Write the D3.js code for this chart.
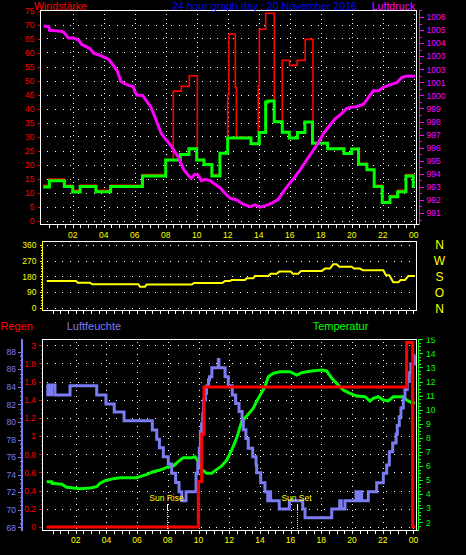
<!DOCTYPE html>
<html><head><meta charset="utf-8">
<script src="https://cdn.jsdelivr.net/npm/d3@7/dist/d3.min.js"></script>
<style>
html,body{margin:0;padding:0;background:#000;}
svg{display:block;}
text{font-family:"Liberation Sans",Arial,sans-serif;}
</style></head><body>
<svg id="chart" width="466" height="555"></svg>
<script>
// ---------- data ----------
const hourTicks  = [2,4,6,8,10,12,14,16,18,20,22,24];
const hourLabels = ["02","04","06","08","10","12","14","16","18","20","22","00"];

const windTicks = [0,5,10,15,20,25,30,35,40,45,50,55,60,65,70,75];
const pressureTicks  = [1006,1005,1004,1003,1002,1001,1000,999,998,997,996,995,994,993,992,991];
const pressureLabels = ["1006","1005","1004","1003","1003","1001","1000","999","998","997","996","995","994","993","992","991"];
const dirTicks   = [0,90,180,270,360];
const dirLetters = ["N","O","S","W","N"];
const humTicks   = [68,70,72,74,76,78,80,82,84,86,88];
const rainTicks  = [0,0.2,0.4,0.6,0.8,1,1.2,1.4,1.6,1.8,2];
const rainLabels = ["0","0.2","0.4","0.6","0.8","1","1.2","1.4","1.6","1.8","3"];
const tempTicks  = [2,3,4,5,6,7,8,9,10,11,12,13,14,15];

// wind average (step)
const windHours = [0.1,0.5,1.46,2.0,2.48,3.5,4.45,6.5,8.0,8.94,9.5,10.0,10.47,10.98,11.5,12.0,13.5,14.04,14.45,14.6,15.0,15.52,15.97,16.5,16.98,17.47,18.45,19.5,20.0,20.44,20.98,21.45,21.97,22.47,22.97,23.5,23.97,24.05];
const windAvg   = [12.0,14.2,12.1,10.2,12.1,10.3,12.1,15.9,21.6,23.6,25.6,21.6,20.0,15.9,24.0,29.5,27.4,31.4,42.3,42.7,35.3,31.5,29.5,31.4,35.2,27.6,25.6,23.9,25.5,20.1,18.1,12.1,6.4,8.5,10.3,15.9,12.1,12.1];
// wind gust (step)
const gustHours = [0.1,0.5,1.46,2.0,2.48,3.5,4.45,6.5,8.0,8.49,9.0,9.52,10.04,10.47,10.98,11.5,12.0,12.08,12.49,12.56,13.5,13.97,14.04,14.45,15.0,15.52,15.99,16.48,17.0,17.5,18.45,19.5,20.0,20.5,20.98,21.45,21.97,22.47,22.97,23.5,23.97,24.05];
const gustValues= [12.6,14.8,12.6,10.8,12.6,10.8,12.6,16.4,21.8,46.2,47.9,51.7,21.8,20.2,16.4,24.2,45.0,66.6,47.6,29.7,27.6,48.0,68.3,74.0,35.5,57.2,55.4,57.2,64.7,27.8,25.8,24.1,25.7,20.3,18.3,12.6,6.8,8.9,10.8,16.4,12.3,12.3];
// pressure
const presHours = [0.13,0.45,0.51,1.29,1.46,1.72,2.04,2.38,2.6,2.86,3.12,3.37,3.72,4.06,4.32,4.62,4.88,5.1,5.31,5.61,5.91,6.0,6.13,6.51,6.77,7.03,7.25,7.42,7.71,8.0,8.32,8.54,8.8,8.97,9.18,9.44,9.65,9.87,10.08,10.3,10.55,10.86,11.18,11.5,11.83,12.15,12.58,13.0,13.44,13.76,14.08,14.41,14.84,15.27,15.59,15.92,16.35,16.67,17.1,17.53,17.85,18.18,18.61,18.93,19.36,19.68,20.0,20.33,20.76,20.97,21.18,21.4,21.72,22.05,22.47,22.9,23.23,23.55,24.08];
const presValues= [1005.31,1005.26,1004.98,1004.9,1004.8,1004.39,1004.39,1004.24,1003.88,1003.73,1003.57,1003.22,1003.09,1002.92,1002.76,1002.3,1001.85,1001.08,1000.93,1000.77,1000.67,1000.31,1000.03,1000.0,999.57,999.14,998.5,998.0,997.1,996.64,996.18,995.77,995.31,994.81,994.29,993.91,993.66,993.96,993.91,993.48,993.58,993.48,993.2,992.94,992.51,992.13,992.0,991.67,991.49,991.62,991.44,991.54,991.75,992.05,992.63,993.15,993.78,994.29,995.06,995.82,996.38,997.1,997.74,998.2,998.63,999.01,999.09,999.14,999.32,999.65,1000.03,1000.36,1000.36,1000.62,1000.8,1000.97,1001.36,1001.49,1001.46];
// wind direction
const dirHours  = [0.11,2.02,2.13,2.93,3.08,6.08,6.19,6.51,6.63,9.56,9.71,11.55,11.73,12.05,12.16,13.03,13.14,13.57,13.68,14.55,14.7,15.09,15.26,16.01,16.14,16.5,16.68,18.03,18.24,18.57,18.78,19.0,19.17,19.98,20.13,20.52,20.7,22.04,22.21,22.43,22.69,23.02,23.17,23.45,23.67,24.1];
const dirValues = [154,154,144,144,135,135,121,121,133,133,142,142,154,154,159,159,169,169,182,182,195,195,207,207,195,195,211,211,224,224,249,249,235,235,224,224,215,215,186,186,146,146,159,159,182,182];
// humidity (step)
const humHours  = [0.11,0.18,0.26,0.3,0.44,0.65,1.63,3.37,3.97,4.51,5.15,6.99,7.28,7.45,7.71,8.03,8.25,8.51,8.73,8.91,9.19,9.84,9.95,10.05,10.12,10.2,10.28,10.33,10.45,10.52,10.65,10.72,10.87,11.29,11.33,11.73,11.94,12.2,12.42,12.64,12.84,12.92,13.09,13.24,13.53,13.75,13.79,14.05,14.33,14.51,14.6,14.7,15.26,15.92,16.79,16.94,18.68,19.2,19.3,19.54,20.26,20.35,20.45,20.63,21.06,21.61,22.04,22.26,22.43,22.65,22.87,22.95,23.08,23.19,23.34,23.45,23.6,23.73,23.84,24.06,24.12];
const humValues = [84.2,83.1,84.2,83.1,84.2,83.07,84.13,83.07,82.04,81.13,80.14,79.08,78.02,77.07,76.04,75.2,74.15,73.1,72.05,71.03,72.05,74.15,75.3,77.0,78.9,79.8,81.0,82.5,83.26,84.1,84.8,85.15,86.18,87.1,86.18,85.15,84.13,83.07,82.1,81.2,80.1,79.1,78.1,77.0,76.04,75.1,74.2,73.08,72.05,71.03,72.05,71.03,70.08,71.03,70.08,69.1,70.08,71.03,70.08,71.03,72.05,71.03,72.05,71.03,72.05,73.08,74.15,75.1,76.6,77.6,78.6,79.6,80.6,81.6,82.7,83.7,84.6,85.6,86.6,87.6,87.6];
// temperature
const tempHours = [0.11,0.44,0.46,1.09,1.41,2.28,2.93,3.37,3.58,3.91,4.45,4.89,5.97,6.19,6.63,7.06,7.49,7.93,8.36,8.79,9.01,9.56,9.77,9.99,10.21,10.53,10.86,11.19,11.51,11.84,12.16,12.49,12.81,13.24,13.57,13.79,14.12,14.33,14.55,14.87,15.31,15.96,16.4,16.72,17.37,18.03,18.35,18.68,19.0,19.43,19.87,20.31,20.85,21.17,21.39,21.71,22.04,22.36,22.69,23.34,23.56,23.89,24.1];
const tempValues= [4.88,4.88,4.77,4.70,4.49,4.39,4.44,4.53,4.77,4.95,5.1,5.17,5.17,5.24,5.41,5.59,5.71,5.9,6.0,6.42,6.59,6.59,6.66,6.3,5.76,5.48,5.48,5.76,6.0,6.42,7.13,8.0,9.14,9.67,10.1,10.6,11.23,11.63,12.34,12.58,12.7,12.7,12.46,12.63,12.75,12.82,12.75,12.23,11.87,11.4,11.16,10.97,10.92,10.62,10.8,10.92,10.69,10.62,10.92,10.92,10.69,10.49,10.49];
// rain (step)
const rainHours = [0.1,9.99,10.21,10.36,23.56,23.95,24.1];
const rainValues= [0,0.5,1.02,1.54,2.03,0,0];
const sunRiseHour = 7.97, sunSetHour = 16.44;

// ---------- colours ----------
const RED="#ff0000", GREEN="#00ff00", MAG="#ff00ff", YEL="#ffff00", HUM="#7b7bf2", BLUE="#0000ff", WHITE="#ffffff";

const svg=d3.select("#chart");
svg.append("rect").attr("width",466).attr("height",555).attr("fill","#000");

const xTop=d3.scaleLinear().domain([0,24]).range([41.7,413.7]);
const xBot=d3.scaleLinear().domain([0,24]).range([45,413.4]);
const yWind=d3.scaleLinear().domain([0,75]).range([220.5,10.5]);
const yPres=d3.scaleLinear().domain([991,1006]).range([213,17]);
const yDir=d3.scaleLinear().domain([0,360]).range([308,244.7]);
const yHum=d3.scaleLinear().domain([68,88]).range([527.3,351.7]);
const yRain=d3.scaleLinear().domain([0,2]).range([527,345.3]);
const yTemp=d3.scaleLinear().domain([2,15]).range([522.3,339.3]);

const zip=(h,v)=>h.map((d,i)=>[d,v[i]]);
const px=v=>Math.round(v)+0.5;
const halfHours=d3.range(0.5,24.01,0.5);

function hline(g,y,x0,x1,color,w,dash){
  const l=g.append("line").attr("x1",x0).attr("x2",x1).attr("y1",y).attr("y2",y)
    .attr("stroke",color).attr("stroke-width",w||1).attr("shape-rendering","crispEdges");
  if(dash) l.attr("stroke-dasharray",dash);
  return l;
}
function vline(g,x,y0,y1,color,w,dash){
  const l=g.append("line").attr("x1",x).attr("x2",x).attr("y1",y0).attr("y2",y1)
    .attr("stroke",color).attr("stroke-width",w||1).attr("shape-rendering","crispEdges");
  if(dash) l.attr("stroke-dasharray",dash);
  return l;
}
function styleAxis(g,color,fs){
  g.attr("font-size",fs||8).attr("font-family","Liberation Sans, Arial, sans-serif");
  g.select(".domain").remove();
  g.selectAll(".tick line").attr("stroke",color).attr("shape-rendering","crispEdges");
  g.selectAll(".tick text").attr("fill",color);
}

// ================= TOP PANEL =================
const gTop=svg.append("g");
const gridT=gTop.append("g");
windTicks.filter(v=>v<75).forEach(v=>hline(gridT,px(yWind(v)),47,416,WHITE,1,"1,6.75"));
hourTicks.forEach(h=>vline(gridT,px(xTop(h)),14,223,WHITE,1,"1,3.67"));

const stepLineTop=y=>d3.line().x(d=>xTop(d[0])).y(d=>y(d[1])).curve(d3.curveStepAfter);
gTop.append("path").datum(zip(gustHours,gustValues)).attr("d",stepLineTop(yWind))
  .attr("fill","none").attr("stroke",RED).attr("stroke-width",1.6);
gTop.append("path").datum(zip(windHours,windAvg)).attr("d",stepLineTop(yWind))
  .attr("fill","none").attr("stroke",GREEN).attr("stroke-width",3).attr("stroke-linejoin","miter");
gTop.append("path").datum(zip(presHours,presValues))
  .attr("d",d3.line().x(d=>xTop(d[0])).y(d=>yPres(d[1])))
  .attr("fill","none").attr("stroke",MAG).attr("stroke-width",3);

// left wind axis
const axW=gTop.append("g").attr("transform","translate(40.5,0)")
  .call(d3.axisLeft(yWind).tickValues(windTicks).tickSize(3).tickPadding(3).tickSizeOuter(0));
styleAxis(axW,RED,8.5);
vline(gTop,40.5,10,225,WHITE,1);
hline(gTop,10.5,40,417,WHITE,1);
vline(gTop,416.5,10,225,WHITE,1);
// bottom axis of top panel
const axXT=gTop.append("g").attr("transform","translate(0,224.5)")
  .call(d3.axisBottom(xTop).tickValues(halfHours).tickSize(3).tickFormat(""));
styleAxis(axXT,WHITE);
hline(gTop,224.5,40,419,WHITE,1);
gTop.append("g").selectAll("text").data(hourTicks).join("text")
  .attr("x",h=>xTop(h)).attr("y",238).attr("text-anchor","middle")
  .attr("font-size",8.5).attr("fill",YEL).text((h,i)=>hourLabels[i]);
// pressure axis
vline(gTop,419.5,10,225,MAG,1.5);
const axP=gTop.append("g").attr("transform","translate(419.5,0)")
  .call(d3.axisRight(yPres).tickValues(pressureTicks).tickSize(4).tickPadding(3).tickSizeOuter(0)
    .tickFormat((d,i)=>pressureLabels[i]));
styleAxis(axP,MAG,8.5);
const axPm=gTop.append("g").attr("transform","translate(419.5,0)")
  .call(d3.axisRight(yPres).tickValues(d3.range(990.5,1006.6,1)).tickSize(2).tickFormat("").tickSizeOuter(0));
styleAxis(axPm,MAG);

// cover top of "75" label
svg.append("rect").attr("x",0).attr("y",0).attr("width",40).attr("height",8).attr("fill","#000");

// titles
svg.append("text").attr("x",34).attr("y",9.5).attr("font-size",10.6).attr("fill",RED).text("Windstärke");
svg.append("text").attr("x",172).attr("y",9.5).attr("font-size",10.6).attr("fill",BLUE).text("24 hour graph day : 20 November 2016");
svg.append("text").attr("x",371.7).attr("y",9.5).attr("font-size",10.6).attr("fill",MAG).text("Luftdruck");

// ================= MIDDLE PANEL =================
const gMid=svg.append("g");
dirTicks.forEach(v=>hline(gMid,px(yDir(v)),47,416,WHITE,1,"1,6.7"));
gMid.append("path").datum(zip(dirHours,dirValues))
  .attr("d",d3.line().x(d=>xBot(d[0])).y(d=>yDir(d[1])))
  .attr("fill","none").attr("stroke",YEL).attr("stroke-width",2);
hline(gMid,241.5,43,417,WHITE,1);
vline(gMid,416.5,241,311,WHITE,1);
hline(gMid,310.5,42,417,WHITE,1);
const axXM=gMid.append("g").attr("transform","translate(0,310.5)")
  .call(d3.axisBottom(xBot).tickValues(halfHours).tickSize(3).tickFormat(""));
styleAxis(axXM,WHITE);
vline(gMid,42.5,241,311,YEL,1);
const axD=gMid.append("g").attr("transform","translate(42.5,0)")
  .call(d3.axisLeft(yDir).tickValues(dirTicks).tickSize(3).tickPadding(3).tickSizeOuter(0));
styleAxis(axD,YEL,8.5);
const axDm=gMid.append("g").attr("transform","translate(42.5,0)")
  .call(d3.axisLeft(yDir).tickValues(d3.range(0,361,15)).tickSize(1.5).tickFormat("").tickSizeOuter(0));
styleAxis(axDm,YEL);
gMid.append("g").selectAll("text").data(dirTicks).join("text")
  .attr("x",439.5).attr("y",d=>yDir(d)+4.5).attr("text-anchor","middle")
  .attr("font-size",12).attr("fill",YEL).text((d,i)=>dirLetters[i]);

// ================= BOTTOM PANEL =================
const gBot=svg.append("g");
rainTicks.forEach(v=>hline(gBot,px(yRain(v)),47,416,WHITE,1,"1,6.7"));
hourTicks.forEach(h=>vline(gBot,px(xBot(h)),342,529,WHITE,1,"1,5"));

const stepLineBot=y=>d3.line().x(d=>xBot(d[0])).y(d=>y(d[1])).curve(d3.curveStepAfter);
gBot.append("path").datum(zip(tempHours,tempValues))
  .attr("d",d3.line().x(d=>xBot(d[0])).y(d=>yTemp(d[1])))
  .attr("fill","none").attr("stroke",GREEN).attr("stroke-width",3);
gBot.append("path").datum(zip(humHours,humValues)).attr("d",stepLineBot(yHum))
  .attr("fill","none").attr("stroke",HUM).attr("stroke-width",3);
gBot.append("path").datum(zip(rainHours,rainValues)).attr("d",stepLineBot(yRain))
  .attr("fill","none").attr("stroke",RED).attr("stroke-width",3);

// borders
hline(gBot,339.5,42,417,WHITE,1.5);
vline(gBot,42.5,339,531,WHITE,1);
vline(gBot,416.5,339,531,WHITE,1);
hline(gBot,530.5,42,419,WHITE,1);
const axXB=gBot.append("g").attr("transform","translate(0,530.5)")
  .call(d3.axisBottom(xBot).tickValues(halfHours).tickSize(3).tickFormat(""));
styleAxis(axXB,WHITE);
gBot.append("g").selectAll("text").data(hourTicks).join("text")
  .attr("x",h=>xBot(h)).attr("y",543).attr("text-anchor","middle")
  .attr("font-size",8.5).attr("fill",YEL).text((h,i)=>hourLabels[i]);

// rain axis
const axR=gBot.append("g").attr("transform","translate(42,0)")
  .call(d3.axisLeft(yRain).tickValues(rainTicks).tickSize(3).tickPadding(3).tickSizeOuter(0)
    .tickFormat((d,i)=>rainLabels[i]));
styleAxis(axR,RED,8.5);
const axRm=gBot.append("g").attr("transform","translate(42,0)")
  .call(d3.axisLeft(yRain).tickValues(d3.range(0,2.01,0.05)).tickSize(1.5).tickFormat("").tickSizeOuter(0));
styleAxis(axRm,RED);

// humidity axis
vline(gBot,22,339,531,HUM,2);
const axH=gBot.append("g").attr("transform","translate(21,0)")
  .call(d3.axisLeft(yHum).tickValues(humTicks).tickSize(3).tickPadding(2).tickSizeOuter(0));
styleAxis(axH,HUM,8.5);
const axHm=gBot.append("g").attr("transform","translate(21,0)")
  .call(d3.axisLeft(yHum).tickValues(d3.range(68,88.01,0.5)).tickSize(1.5).tickFormat("").tickSizeOuter(0));
styleAxis(axHm,HUM);

// temperature axis
vline(gBot,418.5,339,531,GREEN,1.5);
const axTp=gBot.append("g").attr("transform","translate(419,0)")
  .call(d3.axisRight(yTemp).tickValues(tempTicks).tickSize(4).tickPadding(3).tickSizeOuter(0));
styleAxis(axTp,GREEN,8.5);
const axTm=gBot.append("g").attr("transform","translate(419,0)")
  .call(d3.axisRight(yTemp).tickValues(d3.range(1.75,15.01,0.25)).tickSize(2).tickFormat("").tickSizeOuter(0));
styleAxis(axTm,GREEN);
svg.append("rect").attr("x",420).attr("y",328).attr("width",46).attr("height",9.5).attr("fill","#000");

// sun rise / set
[[sunRiseHour,"Sun Rise"],[sunSetHour,"Sun Set"]].forEach(([h,t])=>{
  const x=px(xBot(h));
  gBot.append("text").attr("x",x-1).attr("y",501).attr("text-anchor","middle")
    .attr("font-size",8.5).attr("fill",YEL).text(t);
  vline(gBot,x,504,510,WHITE,1);
  vline(gBot,x,510,530,YEL,1,"1,1");
});

// legends
svg.append("text").attr("x",0.5).attr("y",330).attr("font-size",11).attr("fill",RED).text("Regen");
svg.append("text").attr("x",66.7).attr("y",330).attr("font-size",11).attr("fill",HUM).text("Luftfeuchte");
svg.append("text").attr("x",312.7).attr("y",330).attr("font-size",11).attr("fill",GREEN).text("Temperatur");
</script>
</body></html>
